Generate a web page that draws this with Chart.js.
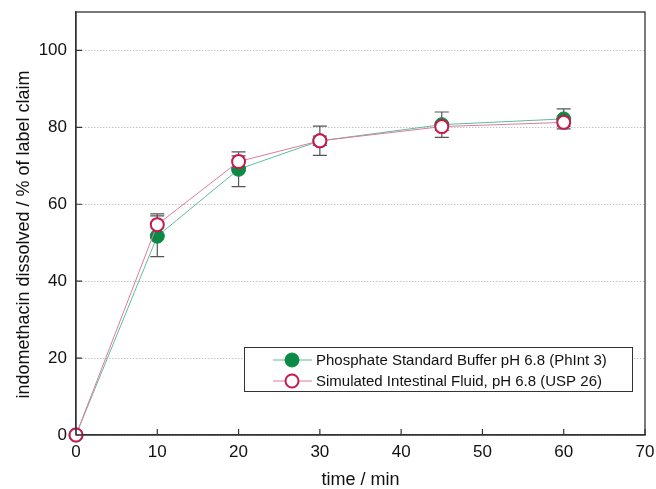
<!DOCTYPE html>
<html>
<head>
<meta charset="utf-8">
<script src="https://cdn.jsdelivr.net/npm/chart.js@4"></script>
<style>
  body { margin: 0; background: #fff; }
  #wrap { width: 656px; height: 489px; }
</style>
</head>
<body>
<div id="wrap"><canvas id="dissolutionChart"></canvas></div>
<script>
// time points (min)
const timePoints = [0, 10, 20, 30, 45, 60];
// phosphate standard buffer pH 6.8 (PhInt 3)
const bufferMean = [0, 51.7, 69.1, 76.5, 80.7, 82.2];
const bufferSd = [0, 5.3, 4.5, 3.8, 3.3, 2.6];
// simulated intestinal fluid pH 6.8 (USP 26)
const sifMean = [0, 54.7, 71.1, 76.5, 80.2, 81.3];
const sifSd = [0, 2.8, 1.5, 1.2, 1.0, 1.0];
const xTicks = [0, 10, 20, 30, 40, 50, 60, 70];
const yTicks = [0, 20, 40, 60, 80, 100];
const yTitle = 'indomethacin dissolved / % of label claim';

const FONT = 'Liberation Sans, Arial, sans-serif';

function toPoints(xs, ys) {
    return xs.map((x, i) => ({ x: x, y: ys[i] }));
}

// error bars drawn under the markers
const errorBars = {
    id: 'errorBars',
    beforeDatasetsDraw(chart) {
        const ctx = chart.ctx;
        const xs = chart.scales.x, ys = chart.scales.y;
        const sets = [[bufferMean, bufferSd], [sifMean, sifSd]];
        ctx.save();
        ctx.strokeStyle = '#555';
        ctx.lineWidth = 1.2;
        sets.forEach(([mean, sd]) => {
            timePoints.forEach((t, i) => {
                if (!sd[i]) return;
                const px = xs.getPixelForValue(t);
                const top = ys.getPixelForValue(mean[i] + sd[i]);
                const bot = ys.getPixelForValue(mean[i] - sd[i]);
                ctx.beginPath();
                ctx.moveTo(px, top); ctx.lineTo(px, bot);
                ctx.moveTo(px - 7, top); ctx.lineTo(px + 7, top);
                ctx.moveTo(px - 7, bot); ctx.lineTo(px + 7, bot);
                ctx.stroke();
            });
        });
        ctx.restore();
    }
};

// frame, inward ticks, y title and the legend box
const frameAndLegend = {
    id: 'frameAndLegend',
    afterDraw(chart) {
        const ctx = chart.ctx;
        const a = chart.chartArea;
        const xs = chart.scales.x, ys = chart.scales.y;
        ctx.save();
        ctx.strokeStyle = '#333';
        ctx.lineWidth = 1.3;
        ctx.strokeRect(a.left, a.top, a.right - a.left, a.bottom - a.top);

        ctx.lineWidth = 1.2;
        ctx.beginPath();
        xTicks.forEach(v => {
            const px = xs.getPixelForValue(v);
            ctx.moveTo(px, a.bottom); ctx.lineTo(px, a.bottom - 6);
        });
        yTicks.forEach(v => {
            const py = ys.getPixelForValue(v);
            ctx.moveTo(a.left, py); ctx.lineTo(a.left + 6, py);
        });
        ctx.stroke();

        // y title, sits a little below the middle of the axis
        ctx.save();
        ctx.translate(24, (a.top + a.bottom) / 2 + 11);
        ctx.rotate(-Math.PI / 2);
        ctx.fillStyle = '#111';
        ctx.font = '18px ' + FONT;
        ctx.textAlign = 'center';
        ctx.textBaseline = 'middle';
        ctx.fillText(yTitle, 0, 0);
        ctx.restore();

        const boxW = 388, boxH = 44;
        const bx = a.right - 13 - boxW, by = a.bottom - 44 - boxH;
        ctx.lineWidth = 1;
        ctx.fillStyle = '#fff';
        ctx.fillRect(bx, by, boxW, boxH);
        ctx.strokeRect(bx + 0.5, by + 0.5, boxW, boxH);

        const order = [0, 1];
        order.forEach((di, row) => {
            const ds = chart.data.datasets[di];
            const cy = by + 13 + row * 21;
            ctx.strokeStyle = ds.borderColor;
            ctx.lineWidth = 1;
            ctx.beginPath();
            ctx.moveTo(bx + 29, cy); ctx.lineTo(bx + 68, cy);
            ctx.stroke();
            ctx.beginPath();
            ctx.arc(bx + 48, cy, ds.pointRadius, 0, Math.PI * 2);
            ctx.fillStyle = ds.pointBackgroundColor;
            ctx.fill();
            ctx.lineWidth = ds.pointBorderWidth;
            ctx.strokeStyle = ds.pointBorderColor;
            ctx.stroke();
            ctx.fillStyle = '#111';
            ctx.font = '15px ' + FONT;
            ctx.textBaseline = 'middle';
            ctx.fillText(ds.label, bx + 72, cy + 1);
        });
        ctx.restore();
    }
};

const ctx = document.getElementById('dissolutionChart').getContext('2d');
new Chart(ctx, {
    type: 'line',
    data: {
        datasets: [
            {
                label: 'Phosphate Standard Buffer pH 6.8 (PhInt 3)',
                data: toPoints(timePoints, bufferMean),
                borderColor: '#5fbc9c',
                borderWidth: 1,
                pointRadius: 7,
                pointBackgroundColor: '#0b8a46',
                pointBorderColor: '#0b8a46',
                pointBorderWidth: 1,
                tension: 0,
                clip: false,
                order: 1
            },
            {
                label: 'Simulated Intestinal Fluid, pH 6.8 (USP 26)',
                data: toPoints(timePoints, sifMean),
                borderColor: '#e07a9b',
                borderWidth: 1,
                pointRadius: 6.5,
                pointBackgroundColor: '#fff',
                pointBorderColor: '#c8194e',
                pointBorderWidth: 2,
                tension: 0,
                clip: false,
                order: 0
            }
        ]
    },
    options: {
        responsive: true,
        maintainAspectRatio: false,
        animation: false,
        layout: { padding: { top: 12, right: 11, left: 0, bottom: 0 } },
        plugins: {
            legend: { display: false },
            tooltip: { enabled: false }
        },
        scales: {
            x: {
                type: 'linear',
                min: 0,
                max: 70,
                afterBuildTicks: s => { s.ticks = xTicks.map(v => ({ value: v })); },
                afterFit: s => {
                    s.height = 54;
                    s.paddingLeft = 0; s.paddingRight = 0;
                },
                grid: { drawOnChartArea: false, drawTicks: false },
                border: { color: '#333', width: 1.3 },
                ticks: { color: '#111', padding: 7, font: { family: FONT, size: 17 } },
                title: {
                    display: true,
                    text: 'time / min',
                    color: '#111',
                    padding: { top: 0, bottom: -2 },
                    font: { family: FONT, size: 18 }
                }
            },
            y: {
                type: 'linear',
                min: 0,
                max: 110,
                afterBuildTicks: s => { s.ticks = yTicks.map(v => ({ value: v })); },
                afterFit: s => {
                    s.width = 76;
                    s.paddingTop = 0; s.paddingBottom = 0;
                },
                grid: { color: '#a8a8a8', lineWidth: 1, drawTicks: false },
                border: { color: '#333', width: 1.3, dash: [1, 2] },
                ticks: { color: '#111', padding: 9, font: { family: FONT, size: 17 } },
                title: { display: false }
            }
        }
    },
    plugins: [errorBars, frameAndLegend]
});
</script>
</body>
</html>
